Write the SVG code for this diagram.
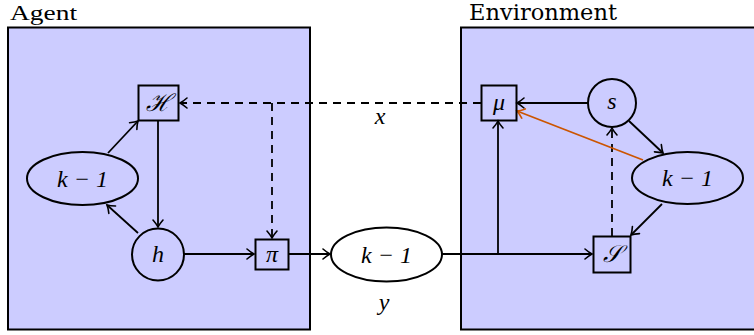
<svg xmlns="http://www.w3.org/2000/svg" width="754" height="335" viewBox="0 0 754 335">
<defs>
<style>
.frame{fill:#ccccff;stroke:#000;stroke-width:2}
.node{fill:none;stroke:#000;stroke-width:2}
.lbl{font-size:22px;fill:#000}
.math{font-family:'Liberation Serif',serif;font-style:italic;font-size:24px;fill:#000;text-anchor:middle}
.e{fill:none;stroke:#000;stroke-width:1.8}
.d{stroke-dasharray:8 6}
.o{stroke:#cc5500}
</style>
<marker id="arr" markerUnits="userSpaceOnUse" markerWidth="14" markerHeight="14" viewBox="-10 -7 14 14" refX="0" refY="0" orient="auto">
<path d="M-7,-5 Q-3,-1.5 0,0 Q-3,1.5 -7,5" fill="none" stroke="#000" stroke-width="1.6" stroke-linecap="round"/>
</marker>
<marker id="arro" markerUnits="userSpaceOnUse" markerWidth="14" markerHeight="14" viewBox="-10 -7 14 14" refX="0" refY="0" orient="auto">
<path d="M-7,-5 Q-3,-1.5 0,0 Q-3,1.5 -7,5" fill="none" stroke="#cc5500" stroke-width="1.6" stroke-linecap="round"/>
</marker>
</defs>
<rect width="754" height="335" fill="#fff"/>
<g id="agent">
<rect class="frame" x="8" y="27.5" width="302" height="302"/>
<text class="lbl" font-family="Liberation Serif" x="10" y="20" textLength="67" lengthAdjust="spacingAndGlyphs">Agent</text>
</g>
<g id="environment">
<rect class="frame" x="461" y="27.5" width="302" height="302"/>
<text class="lbl" font-family="DejaVu Serif" x="469" y="20" textLength="148" lengthAdjust="spacingAndGlyphs">Environment</text>
</g>
<g id="connectors">
<line class="e d" x1="481" y1="103" x2="180" y2="103" marker-end="url(#arr)"/>
<line class="e d" x1="272" y1="103" x2="272" y2="238" marker-end="url(#arr)"/>
<line class="e" x1="108" y1="153" x2="138" y2="121" marker-end="url(#arr)"/>
<line class="e" x1="158" y1="121" x2="158" y2="227" marker-end="url(#arr)"/>
<line class="e" x1="138" y1="233" x2="107" y2="205" marker-end="url(#arr)"/>
<line class="e" x1="184" y1="254" x2="254" y2="254" marker-end="url(#arr)"/>
<line class="e" x1="289" y1="254" x2="330" y2="254" marker-end="url(#arr)"/>
<line class="e" x1="442" y1="254" x2="592" y2="254" marker-end="url(#arr)"/>
<line class="e" x1="498" y1="254" x2="498" y2="121" marker-end="url(#arr)"/>
<line class="e" x1="588" y1="103" x2="517" y2="103" marker-end="url(#arr)"/>
<line class="e" x1="629" y1="121" x2="663" y2="153" marker-end="url(#arr)"/>
<line class="e" x1="662" y1="204" x2="631" y2="235" marker-end="url(#arr)"/>
<line class="e d" x1="612" y1="236" x2="612" y2="128" marker-end="url(#arr)"/>
<line class="e o" x1="643" y1="160" x2="517" y2="111" marker-end="url(#arro)"/>
<text class="math" x="380" y="124">x</text>
<text class="math" x="384" y="310">y</text>
</g>
<g id="H">
<rect class="node" x="138.5" y="85.5" width="40" height="35" fill="#ccccff"/>
<text class="math" x="158.5" y="111">ℋ</text>
</g>
<g id="kleft">
<ellipse class="node" cx="82.5" cy="178.5" rx="55.5" ry="26.5"/>
<text class="math" x="82.5" y="186.5">k − 1</text>
</g>
<g id="h">
<circle class="node" cx="158" cy="254.5" r="26"/>
<text class="math" x="158" y="262">h</text>
</g>
<g id="pi">
<rect class="node" x="255.5" y="239.5" width="33" height="30"/>
<text class="math" x="272" y="262">π</text>
</g>
<g id="kmid">
<ellipse class="node" cx="386.5" cy="254.5" rx="55.5" ry="27" fill="#fff"/>
<text class="math" x="386.5" y="262.5">k − 1</text>
</g>
<g id="mu">
<rect class="node" x="481.5" y="85.5" width="35" height="35"/>
<text class="math" x="499" y="110">μ</text>
</g>
<g id="s">
<circle class="node" cx="612" cy="103" r="24"/>
<text class="math" x="612" y="109">s</text>
</g>
<g id="kright">
<ellipse class="node" cx="687.5" cy="178" rx="55.5" ry="26" fill="#ccccff"/>
<text class="math" x="687.5" y="186">k − 1</text>
</g>
<g id="S">
<rect class="node" x="593.5" y="236.5" width="37" height="36" fill="#ccccff"/>
<text class="math" x="612" y="262">𝒮</text>
</g>
</svg>
